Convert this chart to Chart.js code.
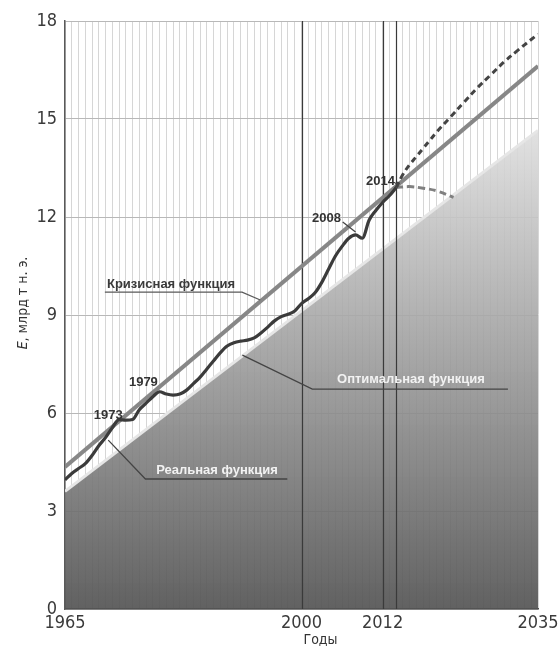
<!DOCTYPE html>
<html>
<head>
<meta charset="utf-8">
<script src="https://cdn.jsdelivr.net/npm/chart.js@4"></script>
<style>
  html, body { margin: 0; padding: 0; background: #ffffff; }
  #wrap { width: 558px; height: 648px; position: relative; }
</style>
</head>
<body>
<div id="wrap"><canvas id="c" width="558" height="648"></canvas></div>
<script>
// ---- data ----
const realYears = [1965,1966,1967,1968,1969,1970,1971,1972,1973,1974,1975,1976,1977,1978,1979,1980,1981,1982,1983,1984,1985,1986,1987,1988,1989,1990,1991,1992,1993,1994,1995,1996,1997,1998,1999,2000,2001,2002,2003,2004,2005,2006,2007,2008,2009,2010,2011,2012,2013,2014];
const realValues = [3.95,4.15,4.3,4.45,4.7,5.0,5.25,5.55,5.8,5.78,5.8,6.1,6.3,6.5,6.65,6.58,6.55,6.58,6.7,6.9,7.1,7.35,7.6,7.85,8.05,8.15,8.2,8.23,8.3,8.45,8.63,8.82,8.95,9.02,9.12,9.35,9.5,9.68,10.0,10.4,10.8,11.1,11.35,11.45,11.35,11.9,12.2,12.45,12.65,12.9];

const crisisYears = [1965, 2035];
const crisisValues = [4.35, 16.62];

const optimalYears = [1965, 2035];
const optimalValues = [3.6, 14.65];

const forecastHighYears = [2014,2015,2016,2017,2018,2019,2020,2022,2024,2026,2028,2030,2032,2035];
const forecastHighValues = [12.9,13.3,13.6,13.85,14.1,14.35,14.6,15.05,15.5,15.95,16.35,16.75,17.1,17.6];

const forecastLowYears = [2014,2016,2018,2020,2022.5];
const forecastLowValues = [12.9,12.93,12.88,12.8,12.6];

const xTickLabels = [1965, 2000, 2012, 2035];
const markerYears = [2000, 2012, 2014];
const yMin = 0, yMax = 18, yStep = 3;
const xMin = 1965, xMax = 2035;

const yTitleItalic = 'E';
const yTitleRest = ', млрд т н. э.';
const xTitle = 'Годы';

// annotation texts
const annotations = [
  { text: 'Кризисная функция', at: [1980.7, 9.95], color: '#3a3a3a', size: 13,
    leader: [[1970.9, 9.70], [1991.2, 9.70], [1993.9, 9.46]], leaderColor: '#5a5a5a' },
  { text: 'Реальная функция', at: [1987.5, 4.25], color: '#f2f2f2', size: 13,
    leader: [[1971.4, 5.17], [1976.9, 3.98], [1997.9, 3.98]], leaderColor: '#444444' },
  { text: 'Оптимальная функция', at: [2016.2, 7.04], color: '#f2f2f2', size: 13,
    leader: [[1991.25, 7.77], [2001.6, 6.73], [2030.55, 6.73]], leaderColor: '#444444' },
  { text: '1973', at: [1971.4, 5.94], color: '#333333', size: 13, leader: null },
  { text: '1979', at: [1976.6, 6.95], color: '#333333', size: 13, leader: null },
  { text: '2008', at: [2003.7, 11.97], color: '#333333', size: 13,
    leader: [[2006.1, 11.85], [2008.0, 11.54]], leaderColor: '#444444' },
  { text: '2014', at: [2011.7, 13.1], color: '#333333', size: 13,
    leader: [[2013.9, 13.05], [2014.3, 12.92]], leaderColor: '#444444' }
];

const narrow = "'Liberation Sans Narrow', 'DejaVu Sans Condensed', 'Roboto', sans-serif";
const boldFace = "'Liberation Sans', Arial, sans-serif";

function pts(xs, ys) { return xs.map((x, i) => ({ x: x, y: ys[i] })); }

const markerPlugin = {
  id: 'markers',
  afterDatasetDraw(chart, args) {
    if (args.index !== 4) return;
    const ctx = chart.ctx, a = chart.chartArea, xs = chart.scales.x;
    ctx.save();
    ctx.strokeStyle = '#3a3a3a';
    ctx.lineWidth = 1.2;
    markerYears.forEach(yr => {
      const px = Math.round(xs.getPixelForValue(yr)) + 0.5;
      ctx.beginPath(); ctx.moveTo(px, a.top); ctx.lineTo(px, a.bottom); ctx.stroke();
    });
    ctx.restore();
  }
};

const annoPlugin = {
  id: 'annos',
  afterDatasetsDraw(chart) {
    const ctx = chart.ctx, xs = chart.scales.x, ys = chart.scales.y;
    ctx.save();
    annotations.forEach(an => {
      if (an.leader) {
        ctx.strokeStyle = an.leaderColor;
        ctx.lineWidth = 1.3;
        ctx.beginPath();
        an.leader.forEach((p, i) => {
          const px = xs.getPixelForValue(p[0]), py = ys.getPixelForValue(p[1]);
          if (i === 0) ctx.moveTo(px, py); else ctx.lineTo(px, py);
        });
        ctx.stroke();
      }
      ctx.font = 'bold ' + an.size + 'px ' + boldFace;
      ctx.fillStyle = an.color;
      ctx.textAlign = 'center';
      ctx.textBaseline = 'middle';
      ctx.fillText(an.text, xs.getPixelForValue(an.at[0]), ys.getPixelForValue(an.at[1]));
    });
    ctx.restore();
  },
  afterDraw(chart) {
    const ctx = chart.ctx, a = chart.chartArea;
    ctx.save();
    // y title
    ctx.translate(a.left - 42, (a.top + a.bottom) / 2 - 12);
    ctx.rotate(-Math.PI / 2);
    ctx.fillStyle = '#333333';
    ctx.textBaseline = 'middle';
    ctx.font = 'italic 14px ' + narrow;
    const w1 = ctx.measureText(yTitleItalic).width;
    ctx.font = '14px ' + narrow;
    const w2 = ctx.measureText(yTitleRest).width;
    let sx = -(w1 + w2) / 2;
    ctx.font = 'italic 14px ' + narrow;
    ctx.textAlign = 'left';
    ctx.fillText(yTitleItalic, sx, 0);
    ctx.font = '14px ' + narrow;
    ctx.fillText(yTitleRest, sx + w1, 0);
    ctx.restore();
    // x title
    ctx.save();
    ctx.fillStyle = '#333333';
    ctx.font = '14px ' + narrow;
    ctx.textAlign = 'center';
    ctx.textBaseline = 'middle';
    ctx.fillText(xTitle, (a.left + a.right) / 2 + 19, a.bottom + 31);
    ctx.restore();
  }
};

function fillGradient(context) {
  const chart = context.chart;
  const a = chart.chartArea;
  if (!a) return 'rgba(120,120,120,0.9)';
  const ys = chart.scales.y;
  const top = ys.getPixelForValue(Math.max(...optimalValues));
  const g = chart.ctx.createLinearGradient(0, top, 0, a.bottom);
  g.addColorStop(0, 'rgba(222,222,222,0.9)');
  g.addColorStop(0.45, 'rgba(160,160,160,0.9)');
  g.addColorStop(1, 'rgba(84,84,84,0.92)');
  return g;
}

new Chart(document.getElementById('c'), {
  type: 'line',
  data: {
    datasets: [
      { label: 'Реальная функция', data: pts(realYears, realValues), borderColor: '#3b3b3b', borderWidth: 3.2,
        pointRadius: 0, tension: 0.3, cubicInterpolationMode: 'monotone', fill: false },
      { label: 'Прогноз 1', data: pts(forecastHighYears, forecastHighValues), borderColor: '#444444', borderWidth: 3,
        borderDash: [6, 4], pointRadius: 0, tension: 0.4, fill: false },
      { label: 'Прогноз 2', data: pts(forecastLowYears, forecastLowValues), borderColor: '#808080', borderWidth: 3,
        borderDash: [7, 4], pointRadius: 0, tension: 0.4, fill: false },
      { label: 'Кризисная функция', data: pts(crisisYears, crisisValues), borderColor: '#878787', borderWidth: 4,
        pointRadius: 0, tension: 0, fill: false },
      { label: 'Оптимальная функция', data: pts(optimalYears, optimalValues), borderColor: '#e6e6e6', borderWidth: 3,
        pointRadius: 0, tension: 0, fill: 'origin', backgroundColor: fillGradient }
    ]
  },
  options: {
    responsive: false,
    animation: false,
    devicePixelRatio: 1,
    layout: { padding: { top: 21, right: 20, left: 0, bottom: 0 } },
    plugins: { legend: { display: false }, tooltip: { enabled: false } },
    scales: {
      x: {
        type: 'linear', min: xMin, max: xMax,
        afterFit(scale) { scale.height = 39; scale.paddingRight = 0; scale.paddingLeft = 0; },
        ticks: {
          stepSize: 1, autoSkip: false, maxRotation: 0, padding: 4,
          color: '#3a3a3a', font: { family: narrow, size: 18 },
          callback: (v) => xTickLabels.includes(v) ? String(v) : ''
        },
        grid: { color: '#d6d6d6', lineWidth: 1, drawTicks: false },
        border: { display: true, color: '#4a4a4a', width: 1.5 }
      },
      y: {
        min: yMin, max: yMax,
        afterFit(scale) { scale.width = 65; scale.paddingTop = 0; scale.paddingBottom = 0; },
        ticks: { stepSize: yStep, padding: 8, color: '#3a3a3a', font: { family: narrow, size: 18 } },
        grid: { color: '#b8b8b8', lineWidth: 1, drawTicks: false },
        border: { display: true, color: '#5a5a5a', width: 1.5 }
      }
    }
  },
  plugins: [markerPlugin, annoPlugin]
});
</script>
</body>
</html>
